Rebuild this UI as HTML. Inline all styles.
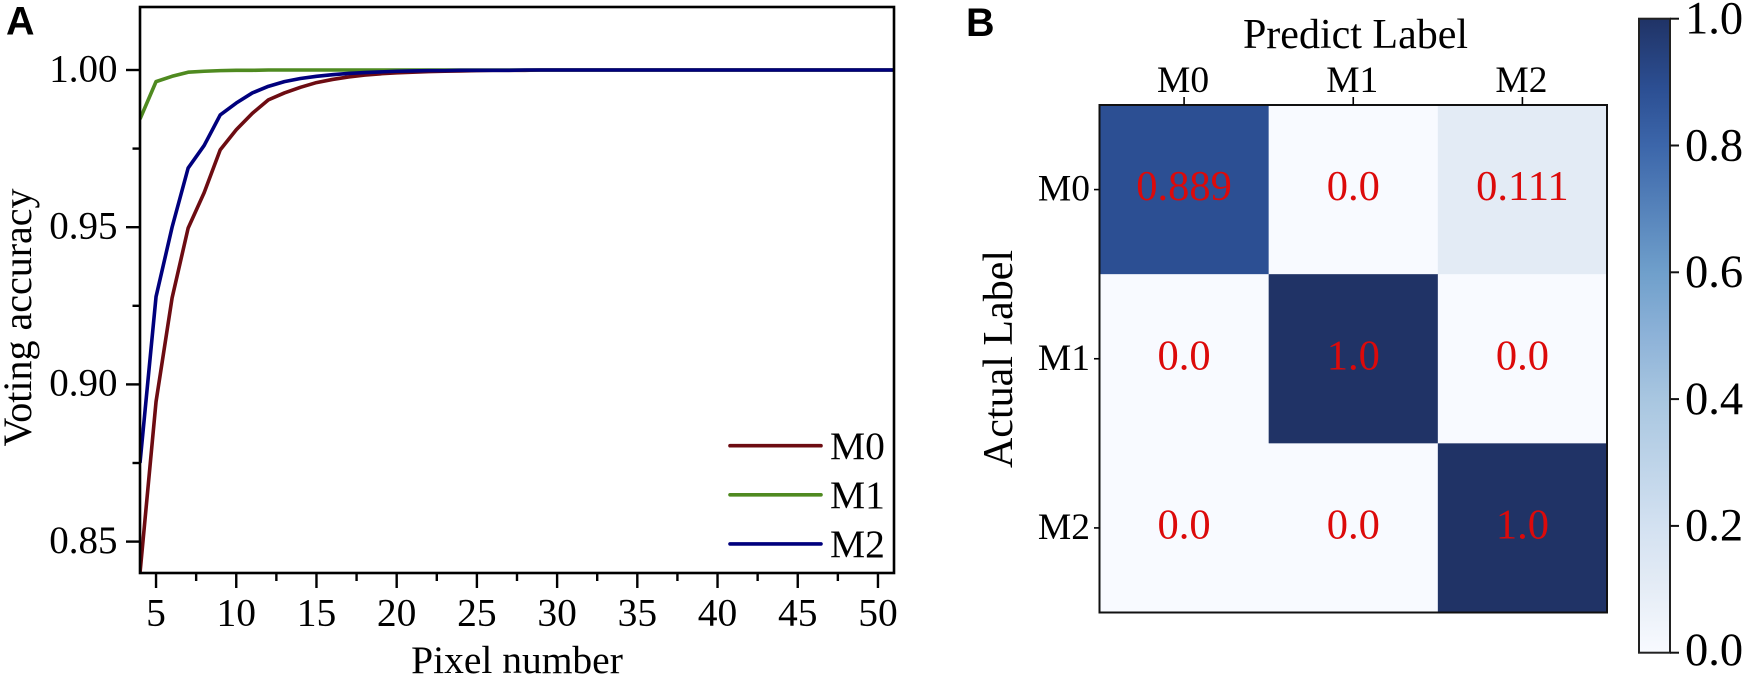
<!DOCTYPE html>
<html lang="en">
<head>
<meta charset="utf-8">
<title>Voting accuracy and confusion matrix</title>
<style>
html,body{margin:0;padding:0;background:#fff;width:1746px;height:677px;overflow:hidden}
svg{display:block;font-family:"Liberation Serif",serif;fill:#000}
.panel{font-family:"Liberation Sans",sans-serif;font-weight:700;font-size:39.5px}
</style>
</head>
<body>
<svg id="fig" xmlns="http://www.w3.org/2000/svg" width="1746" height="677" viewBox="0 0 1746 677">
  <text class="panel" x="6" y="34.5">A</text>
  <text class="panel" x="966" y="36">B</text>
  <text x="31" y="317.5" font-size="40" text-anchor="middle" transform="rotate(-90 31 317.5)">Voting accuracy</text>
  <text x="517" y="673" font-size="39.5" text-anchor="middle">Pixel number</text>
  <text x="1355.5" y="48" font-size="42" text-anchor="middle">Predict Label</text>
  <text x="1012" y="359" font-size="42" text-anchor="middle" transform="rotate(-90 1012 359)">Actual Label</text>
  <defs>
    <linearGradient id="cbar-gradient" x1="0" y1="1" x2="0" y2="0"></linearGradient>
    <clipPath id="plot-clip"><rect x="140" y="7" width="754" height="566"></rect></clipPath>
  </defs>
  <g id="lines" clip-path="url(#plot-clip)"></g>
  <g id="chartA"></g>
  <g id="chartB"></g>
  <g id="cbar"></g>
</svg>
<script>
const pixelNumbers = [4,5,6,7,8,9,10,11,12,13,14,15,16,17,18,19,20,21,22,23,24,25,26,27,28,29,30,31,32,33,34,35,36,37,38,39,40,41,42,43,44,45,46,47,48,49,50,51];
const seriesM0 = [0.84,0.8945,0.9275,0.9497,0.961,0.9746,0.981,0.9862,0.9905,0.9927,0.9945,0.996,0.997,0.9978,0.9984,0.9988,0.9991,0.9993,0.9995,0.9996,0.9997,0.9998,0.9999,0.9999,0.9999,1,1,1,1,1,1,1,1,1,1,1,1,1,1,1,1,1,1,1,1,1,1,1];
const seriesM1 = [0.9844,0.9963,0.998,0.9993,0.9996,0.9998,0.9999,0.9999,1,1,1,1,1,1,1,1,1,1,1,1,1,1,1,1,1,1,1,1,1,1,1,1,1,1,1,1,1,1,1,1,1,1,1,1,1,1,1,1];
const seriesM2 = [0.875,0.9279,0.95,0.9688,0.976,0.9857,0.9895,0.9927,0.9948,0.9963,0.9973,0.998,0.9985,0.9989,0.9992,0.9994,0.9996,0.9997,0.9998,0.9998,0.9999,0.9999,0.9999,0.9999,1,1,1,1,1,1,1,1,1,1,1,1,1,1,1,1,1,1,1,1,1,1,1,1];
const seriesNames = ['M0','M1','M2'];
const xMajorTicks = [5,10,15,20,25,30,35,40,45,50];
const xMinorTicks = [7.5,12.5,17.5,22.5,27.5,32.5,37.5,42.5,47.5];
const yMajorTicks = [0.85,0.90,0.95,1.00];
const yMinorTicks = [0.875,0.925,0.975];

const matrixLabels = ['M0','M1','M2'];
const matrixRow0 = [0.889,0.0,0.111];
const matrixRow1 = [0.0,1.0,0.0];
const matrixRow2 = [0.0,0.0,1.0];
const colorbarTicks = [0.0,0.2,0.4,0.6,0.8,1.0];
</script>
<script>
const NS = 'http://www.w3.org/2000/svg';
function make(parent, tag, attrs, txt) {
  const el = document.createElementNS(NS, tag);
  for (const k in attrs) el.setAttribute(k, attrs[k]);
  if (txt !== undefined) el.textContent = txt;
  parent.appendChild(el);
  return el;
}
/* axis functions */
const xA = v => 140 + (v - 4) * (754 / 47);
const yA = v => 70 + (1 - v) * 3144;
const COLORS = {M0:'#6d0c12', M1:'#4f8a20', M2:'#00007d'};

const linesG = document.getElementById('lines');
const axesA = document.getElementById('chartA');
[seriesM0, seriesM1, seriesM2].forEach((vals, i) => {
  const name = seriesNames[i];
  const pts = vals.map((v, j) => xA(pixelNumbers[j]).toFixed(2) + ',' + yA(v).toFixed(2)).join(' ');
  const line = make(linesG, 'polyline', {points: pts, fill: 'none', stroke: COLORS[name], 'stroke-width': 3.6, 'stroke-linejoin': 'round'});
  
  
});

const frameA = make(axesA, 'rect', {x: 140, y: 7, width: 754, height: 566, fill: 'none', stroke: '#000', 'stroke-width': 2.6});



xMajorTicks.forEach(v => {
  const t = make(axesA, 'line', {x1: xA(v), x2: xA(v), y1: 573, y2: 588, stroke: '#000', 'stroke-width': 2.4});
  
  
  const l = make(axesA, 'text', {x: xA(v), y: 625.5, 'font-size': 39.5, 'text-anchor': 'middle'}, String(v));
  
  
});
xMinorTicks.forEach(v => {
  const t = make(axesA, 'line', {x1: xA(v), x2: xA(v), y1: 573, y2: 581, stroke: '#000', 'stroke-width': 2.4});
  
  
});
yMajorTicks.forEach(v => {
  const t = make(axesA, 'line', {x1: 126, x2: 140, y1: yA(v), y2: yA(v), stroke: '#000', 'stroke-width': 2.4});
  
  
  const l = make(axesA, 'text', {x: 117.5, y: yA(v) + 11.3, 'font-size': 39, 'text-anchor': 'end'}, v.toFixed(2));
  
  
});
yMinorTicks.forEach(v => {
  const t = make(axesA, 'line', {x1: 132.5, x2: 140, y1: yA(v), y2: yA(v), stroke: '#000', 'stroke-width': 2.4});
  
  
});
seriesNames.forEach((name, i) => {
  const y = 445.7 + i * 49.1;
  const s = make(axesA, 'line', {x1: 730, x2: 821, y1: y, y2: y, stroke: COLORS[name], 'stroke-width': 3.6, 'stroke-linecap': 'round'});
  
  
  const l = make(axesA, 'text', {x: 830, y: y + 13.3, 'font-size': 39.5}, name);
  
  
});

/* heatmap */
const HX = 1099.5, HY = 105, HS = 507.5;
const xB = i => HX + i * HS / 3;
const yB = i => HY + i * HS / 3;
const cmapStops = [[0,'#f8faff'],[0.111,'#e3ebf5'],[0.2,'#d3e1f1'],[0.4,'#a8c6e0'],[0.5,'#8db2d8'],[0.6,'#6f9fcb'],[0.8,'#3c66aa'],[0.889,'#2c4f93'],[1,'#203366']];
function hex(c){return [1,3,5].map(i => parseInt(c.substr(i,2),16));}
function cmap(v) {
  const t = Math.max(0, Math.min(1, v));
  for (let i = 1; i < cmapStops.length; i++) {
    if (t <= cmapStops[i][0]) {
      const a = cmapStops[i-1], b = cmapStops[i];
      const f = (t - a[0]) / (b[0] - a[0]);
      const ca = hex(a[1]), cb = hex(b[1]);
      return 'rgb(' + ca.map((c, k) => Math.round(c + (cb[k] - c) * f)).join(',') + ')';
    }
  }
  return cmapStops[cmapStops.length-1][1];
}
const chartB = document.getElementById('chartB');
[matrixRow0, matrixRow1, matrixRow2].forEach((row, r) => {
  row.forEach((v, c) => {
    const cell = make(chartB, 'rect', {x: xB(c), y: yB(r), width: HS/3 + 0.3, height: HS/3 + 0.3, fill: cmap(v)});
    
    
  });
});
[matrixRow0, matrixRow1, matrixRow2].forEach((row, r) => {
  row.forEach((v, c) => {
    const txt = Number.isInteger(v) ? v.toFixed(1) : String(v);
    const l = make(chartB, 'text', {x: xB(c + 0.5), y: yB(r + 0.5) + 10.5, 'font-size': 42.5, 'text-anchor': 'middle', fill: '#dc0a0a'}, txt);
    
    
  });
});
const frameB = make(chartB, 'rect', {x: HX, y: HY, width: HS, height: HS, fill: 'none', stroke: '#111', 'stroke-width': 2});


matrixLabels.forEach((name, i) => {
  const tx = make(chartB, 'line', {x1: xB(i + 0.5), x2: xB(i + 0.5), y1: 97, y2: HY, stroke: '#000', 'stroke-width': 1.6});
  
  
  const lx = make(chartB, 'text', {x: xB(i + 0.5) - 1, y: 92, 'font-size': 37.5, 'text-anchor': 'middle'}, name);
  
  
  const ty = make(chartB, 'line', {x1: 1094, x2: HX, y1: yB(i + 0.5), y2: yB(i + 0.5), stroke: '#000', 'stroke-width': 1.6});
  
  
  const ly = make(chartB, 'text', {x: 1090, y: yB(i + 0.5) + 11, 'font-size': 37.5, 'text-anchor': 'end'}, name);
  
  
});

/* colorbar */
const grad = document.getElementById('cbar-gradient');
cmapStops.forEach(s => make(grad, 'stop', {offset: s[0], 'stop-color': s[1]}));
const cbarG = document.getElementById('cbar');
const yC = v => 652.7 - v * 634;
const bar = make(cbarG, 'rect', {x: 1639, y: yC(1), width: 31, height: yC(0) - yC(1), fill: 'url(#cbar-gradient)', stroke: '#222', 'stroke-width': 2});


colorbarTicks.forEach(v => {
  const t = make(cbarG, 'line', {x1: 1670, x2: 1679, y1: yC(v), y2: yC(v), stroke: '#111', 'stroke-width': 2});
  
  
  const l = make(cbarG, 'text', {x: 1685, y: yC(v) + (v === 0 ? 12.5 : 14.8), 'font-size': 46.5}, v.toFixed(1));
  
  
});
</script>
</body>
</html>
